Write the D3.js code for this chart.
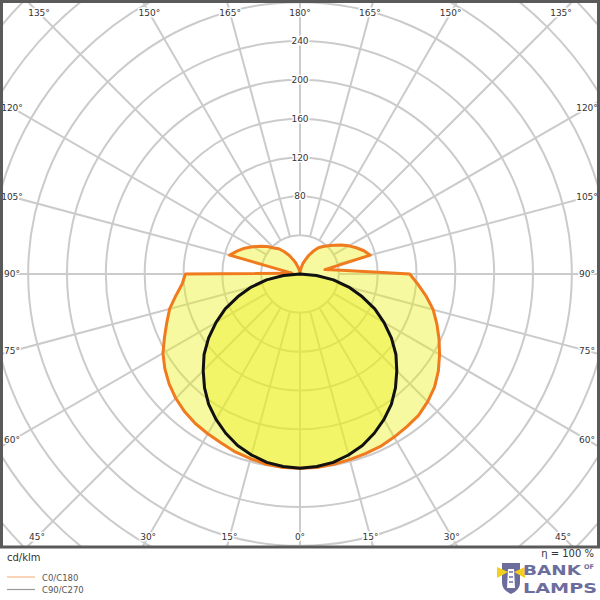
<!DOCTYPE html>
<html><head><meta charset="utf-8">
<script src="https://cdn.jsdelivr.net/npm/d3@7"></script>
<style>body{margin:0;background:#fff} svg{display:block}</style>
</head><body>
<svg id="chart" width="600" height="600"></svg>
<script>
// ---- data (cd/klm), gamma angles in degrees ----
const gammaAngles = [0,5,10,15,20,25,30,35,40,45,50,55,60,65,70,75,80,85,90,
                     95,100,105,110,115,120,125,130,135,140,145,150,155,160,165,170,175,180];
// C0 plane (right half of the diagram)
const c0Values   = [200,200,199,198,197,196,194,192,190,186,181,174,166,158,150,142,132,122,113,
                    43,26,75,70,64,58,52,46,41,37,33,27,21,15,11,6,3,0];
// C180 plane (left half of the diagram)
const c180Values = [200,200,199,197,195,192,190,188,185,181,176,170,163,154,146,139,130,122,118,
                    8,14,75,69,63,56,50,44,38,34,28,22,16,11,7,4,2,0];
// C90 / C270 planes (0..90 degrees)
const c90Angles  = [0,5,10,15,20,25,30,35,40,45,50,55,60,65,70,75,80,85,90];
const c90Values  = [200,199,197,193,188,181,173,164,153,141,129,115,100,85,68,52,35,17,0];
const c270Values = [200,199,197,193,188,181,173,164,153,141,129,115,100,85,68,52,35,17,0];

const ringValues = [40,80,120,160,200,240,280,320,360,400,440];
const ringLabels = [80,120,160,200,240];
const angleTicks = [0,15,30,45,60,75,90,105,120,135,150,165,180];
const unitLabel = "cd/klm";
const legendLabels = ["C0/C180","C90/C270"];
const effLabel = "η = 100 %";

// ---- layout ----
const W = 600, frameH = 547;
const cx = 300, cy = 274;
const r = d3.scaleLinear().domain([0,240]).range([0,233]);
const toRad = d => d*Math.PI/180;

const svg = d3.select("#chart");
const font = "DejaVu Sans, Verdana, sans-serif";

svg.append("defs").append("clipPath").attr("id","frameClip")
  .append("rect").attr("x",2).attr("y",2).attr("width",W-5).attr("height",frameH-3);

const plot = svg.append("g").attr("clip-path","url(#frameClip)");
const g = plot.append("g").attr("transform",`translate(${cx},${cy})`);

// grid rings
g.selectAll("circle.ring").data(ringValues).join("circle")
  .attr("class","ring").attr("r",d=>r(d))
  .attr("fill","none").attr("stroke","#cbcbcb").attr("stroke-width",2);

// radial lines every 15 degrees
const spokes = d3.range(0,360,15);
g.selectAll("line.spoke").data(spokes).join("line")
  .attr("x1",d=>r(40)*Math.sin(toRad(d))).attr("y1",d=>r(40)*Math.cos(toRad(d)))
  .attr("x2",d=>r(480)*Math.sin(toRad(d))).attr("y2",d=>r(480)*Math.cos(toRad(d)))
  .attr("stroke","#cbcbcb").attr("stroke-width",2);

// curves via d3.lineRadial: angle clockwise from up; gamma measured from down
const radial = d3.lineRadial().angle(d=>d.a).radius(d=>r(d.v)).curve(d3.curveLinear);

const orangePts = gammaAngles.map((a,i)=>({a:Math.PI-toRad(a), v:c0Values[i]}))
  .concat(gammaAngles.map((a,i)=>({a:Math.PI+toRad(a), v:c180Values[i]})).reverse());
const blackPts = c90Angles.map((a,i)=>({a:Math.PI-toRad(a), v:c90Values[i]}))
  .concat(c90Angles.map((a,i)=>({a:Math.PI+toRad(a), v:c270Values[i]})).reverse());

const fillCol = "rgba(235,240,20,0.40)";
g.append("path").attr("d",radial(orangePts)+"Z").attr("fill",fillCol).attr("stroke","none");
g.append("path").attr("d",radial(blackPts)+"Z").attr("fill",fillCol).attr("stroke","none");
g.append("path").attr("d",radial(orangePts)+"Z").attr("fill","none")
  .attr("stroke","#f07a1e").attr("stroke-width",3).attr("stroke-linejoin","round");
g.append("path").attr("d",radial(blackPts)+"Z").attr("fill","none")
  .attr("stroke","#111").attr("stroke-width",3).attr("stroke-linejoin","round");

// ring labels
g.selectAll("text.rl").data(ringLabels).join("text")
  .attr("class","rl").attr("x",0).attr("y",d=>-r(d)).attr("dy","0.35em")
  .attr("text-anchor","middle").attr("font-family",font).attr("font-size",9)
  .attr("fill","#333").attr("stroke","#fff").attr("stroke-width",3)
  .attr("paint-order","stroke").text(d=>d);

// angle labels along the frame
const inset = {l:12, r:587, t:13, b:537};
function labelPos(gamma, side){
  const dx = side*Math.sin(toRad(gamma)), dy = Math.cos(toRad(gamma));
  let t = Infinity;
  if (dx>1e-9) t = Math.min(t,(inset.r-cx)/dx);
  if (dx<-1e-9) t = Math.min(t,(inset.l-cx)/dx);
  if (dy>1e-9) t = Math.min(t,(inset.b-cy)/dy);
  if (dy<-1e-9) t = Math.min(t,(inset.t-cy)/dy);
  return [cx+dx*t, cy+dy*t];
}
const angleLabelData = [];
angleTicks.forEach(a=>{
  angleLabelData.push({a, p:labelPos(a,1)});
  if (a!==0 && a!==180) angleLabelData.push({a, p:labelPos(a,-1)});
});
svg.selectAll("text.al").data(angleLabelData).join("text")
  .attr("class","al").attr("x",d=>d.p[0]).attr("y",d=>d.p[1]).attr("dy","0.35em")
  .attr("text-anchor","middle").attr("font-family",font).attr("font-size",9)
  .attr("fill","#333").attr("stroke","#fff").attr("stroke-width",3)
  .attr("paint-order","stroke").text(d=>d.a+"°");

// frame
svg.append("rect").attr("x",1.5).attr("y",1.5).attr("width",W-3).attr("height",frameH-1.5)
  .attr("fill","none").attr("stroke","#5a5a5a").attr("stroke-width",3);

// bottom: unit, legend, efficiency
svg.append("text").attr("x",7).attr("y",561).attr("font-family",font).attr("font-size",10)
  .attr("fill","#333").text(unitLabel);
const legColors = ["#f7b888","#999"];
legendLabels.forEach((lab,i)=>{
  const y = 577 + i*12.5;
  svg.append("line").attr("x1",7).attr("x2",35).attr("y1",y).attr("y2",y)
    .attr("stroke",legColors[i]).attr("stroke-width",1.2);
  svg.append("text").attr("x",42).attr("y",y+3.5).attr("font-family",font).attr("font-size",8.5)
    .attr("fill","#555").text(lab);
});
svg.append("text").attr("x",594).attr("y",557).attr("text-anchor","end")
  .attr("font-family",font).attr("font-size",10).attr("fill","#333").text(effLabel);

// logo
const logo = svg.append("g");
const purple = "#6c6d9c";
logo.append("path").attr("d","M502,563 L520,563 L520,583 Q520,590 511,594 Q502,590 502,583 Z").attr("fill",purple);
logo.append("path").attr("d","M497,567 L508,572 L497,578 Z").attr("fill","#f3cf1e");
logo.append("path").attr("d","M525,567 L514,572 L525,578 Z").attr("fill","#f3cf1e");
logo.append("path").attr("d","M508,569 L514,569 L515,588 L507,588 Z").attr("fill","#fff");
logo.append("path").attr("d","M509,572 L513,572 M509,577 L513,577 M509,582 L513,582").attr("stroke",purple).attr("stroke-width",1.3);
logo.append("text").attr("x",523).attr("y",575).attr("font-family",font).attr("font-weight","bold")
  .attr("font-size",14.5).attr("fill",purple).attr("textLength",58).attr("lengthAdjust","spacingAndGlyphs").text("BANK");
logo.append("text").attr("x",584).attr("y",569).attr("font-family",font).attr("font-weight","bold")
  .attr("font-size",6.5).attr("fill",purple).text("OF");
logo.append("text").attr("x",523).attr("y",593).attr("font-family",font).attr("font-weight","bold")
  .attr("font-size",14.5).attr("fill",purple).attr("textLength",74).attr("lengthAdjust","spacingAndGlyphs").text("LAMPS");
</script>
</body></html>
